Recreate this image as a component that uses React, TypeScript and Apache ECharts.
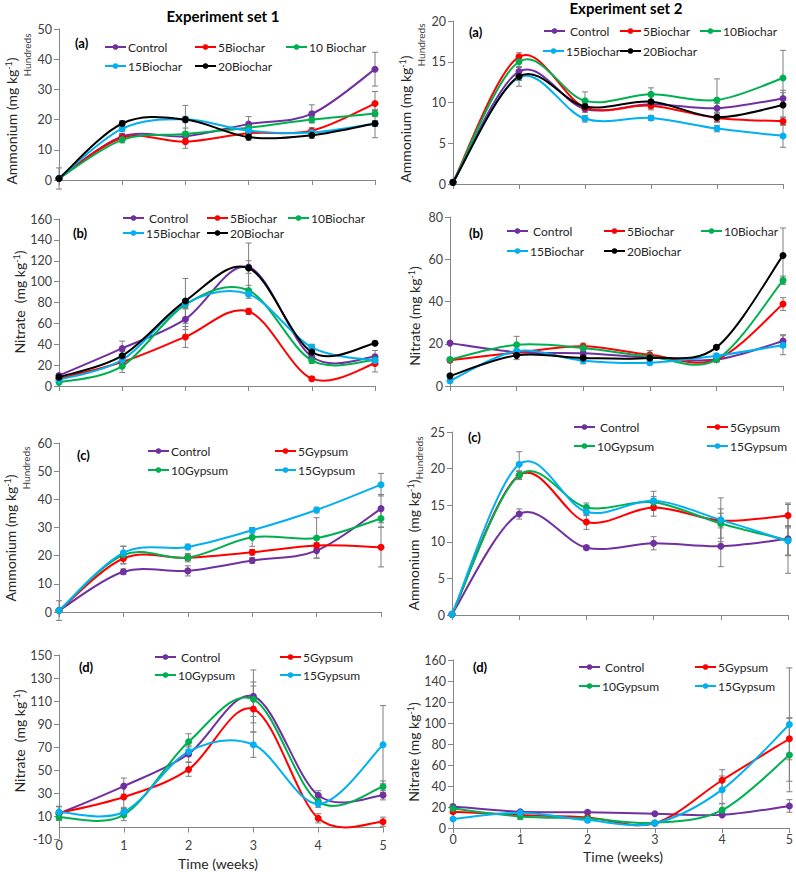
import React, { useEffect, useRef } from 'react';
import * as echarts from 'echarts';

const weeks = [0, 1, 2, 3, 4, 5];

const biocharNamesA = ['Control', '5Biochar', '10 Biochar', '15Biochar', '20Biochar'];
const biocharNames = ['Control', '5Biochar', '10Biochar', '15Biochar', '20Biochar'];
const gypsumNames = ['Control', '5Gypsum', '10Gypsum', '15Gypsum'];

// Experiment set 1 — (a) Ammonium (hundreds), biochar
const set1AmmoniumBiochar = [
  [0.5, 14.4, 14.5, 18.5, 21.9, 36.7],
  [0.5, 14.0, 12.7, 15.5, 16.3, 25.3],
  [0.5, 13.3, 15.2, 17.3, 20.0, 22.0],
  [0.5, 17.0, 20.1, 16.3, 15.7, 18.7],
  [0.5, 18.7, 20.0, 14.2, 14.8, 18.7],
];
const set1AmmoniumBiocharErr = [
  [0, 1, 1.5, 2.5, 3, 5.6],
  [3.5, 1, 2.2, 1, 1, 4],
  [0, 1, 2, 1, 1, 1],
  [0, 1, 1, 1, 1, 1],
  [0, 1, 4.7, 1, 1, 4.7],
];
// Experiment set 1 — (b) Nitrate, biochar
const set1NitrateBiochar = [
  [10, 36, 64, 114, 28, 28],
  [7, 23, 47, 71.5, 7, 21.5],
  [3.5, 19, 78, 91.5, 24.5, 25],
  [6, 25, 79, 88, 37, 24.5],
  [8.5, 29, 81.5, 113, 32.5, 41],
];
const set1NitrateBiocharErr = [
  [2, 7, 10, 6, 4, 6],
  [1, 3, 10, 3, 2, 8],
  [1, 6, 4, 5, 3, 2],
  [1, 3, 4, 4, 3, 2],
  [1, 4, 21.5, 24, 7, 2],
];
// Experiment set 1 — (c) Ammonium (hundreds), gypsum
const set1AmmoniumGypsum = [
  [0.5, 14.3, 14.6, 18.3, 21.8, 36.7],
  [0.5, 19.0, 19.3, 21.2, 23.6, 23.0],
  [0.5, 20.3, 19.3, 26.5, 26.3, 33.2],
  [0.5, 21.0, 23.1, 29.0, 36.2, 45.2],
];
const set1AmmoniumGypsumErr = [
  [3.5, 1, 1.8, 1, 2.6, 5],
  [0, 2, 1, 1, 1, 7],
  [0, 3, 1.5, 3.2, 7.2, 3],
  [0, 2.4, 1, 1, 1, 4],
];
// Experiment set 1 — (d) Nitrate, gypsum
const set1NitrateGypsum = [
  [12, 36, 64, 114, 28, 28],
  [12.5, 26.5, 50.5, 103, 8, 5],
  [9, 11, 74.5, 111.5, 22.5, 35.5],
  [13.5, 13.5, 66, 72, 20.5, 72],
];
const set1NitrateGypsumErr = [
  [6, 7, 7, 23, 4, 4],
  [2, 10, 6, 20, 4, 4],
  [2, 5, 7, 15, 3, 5],
  [5, 4, 4, 11, 3, 34],
];
// Experiment set 2 — (a) Ammonium (hundreds), biochar
const set2AmmoniumBiochar = [
  [0.2, 13.8, 9.2, 9.8, 9.3, 10.5],
  [0.2, 15.6, 9.4, 9.6, 8.1, 7.7],
  [0.2, 15.0, 10.2, 11.0, 10.3, 13.0],
  [0.2, 13.1, 8.0, 8.1, 6.8, 5.9],
  [0.2, 13.2, 9.5, 10.1, 8.2, 9.7],
];
const set2AmmoniumBiocharErr = [
  [0, 0.5, 0.4, 0.5, 0.6, 1],
  [0, 0.5, 0.4, 0.5, 0.5, 0.5],
  [0.3, 0.6, 1.1, 0.8, 2.6, 3.4],
  [0, 0.4, 0.4, 0.3, 0.4, 1.4],
  [0, 1.2, 0.4, 0.7, 0.6, 1.5],
];
// Experiment set 2 — (b) Nitrate, biochar
const set2NitrateBiochar = [
  [20.3, 16, 15.5, 13.5, 12.5, 21.3],
  [12.2, 15.8, 18.8, 14.8, 12.5, 38.8],
  [12.5, 19.5, 18, 14, 12.5, 50],
  [2.5, 16.5, 12, 11, 14.3, 19.3],
  [4.8, 14.5, 13.3, 13.3, 18.3, 61.8],
];
const set2NitrateBiocharErr = [
  [0.5, 1, 1, 1, 1, 3],
  [1, 1, 1.5, 2, 1, 3],
  [1, 4, 1, 1, 1, 2],
  [1, 1, 1.5, 1, 1, 4.5],
  [0.5, 2, 1, 1, 1, 13],
];
// Experiment set 2 — (c) Ammonium (hundreds), gypsum
const set2AmmoniumGypsum = [
  [0.1, 13.8, 9.2, 9.8, 9.4, 10.4],
  [0.1, 19.1, 12.7, 14.7, 12.9, 13.6],
  [0.1, 19.1, 14.7, 15.4, 12.5, 10.2],
  [0.1, 20.6, 14.1, 15.6, 13.0, 10.1],
];
const set2AmmoniumGypsumErr = [
  [0, 0.7, 0.3, 0.9, 2.8, 4.7],
  [0, 0.5, 1, 1.2, 1, 1.7],
  [0, 0.6, 0.6, 0.8, 2, 2],
  [0, 1.7, 0.5, 1.3, 3, 2],
];
// Experiment set 2 — (d) Nitrate, gypsum
const set2NitrateGypsum = [
  [20.5, 15.5, 15, 13.5, 12.5, 21],
  [15.5, 12.5, 10, 4.5, 45.5, 85],
  [18.5, 11, 9, 5, 17, 69.5],
  [8.5, 14.5, 7.5, 4.5, 36.5, 98.5],
];
const set2NitrateGypsumErr = [
  [1, 1, 1, 1, 1, 6],
  [1, 3, 2, 1, 10, 20],
  [1, 3, 2, 1, 6, 35],
  [1, 2, 2, 1, 13, 54],
];

const FONT = 'Lato, "Liberation Sans", sans-serif';
const AXIS_COLOR = '#868686';
const TEXT_COLOR = '#404040';

function colorOf(name: string): string {
  if (name === 'Control') return '#7030A0';
  const n = parseInt(name, 10);
  if (n === 5) return '#FF0000';
  if (n === 10) return '#00B050';
  if (n === 15) return '#00B0F0';
  return '#000000';
}

type Panel = {
  names: string[];
  values: number[][];
  errors: number[][];
  grid: [number, number, number, number];
  y: [number, number, number];
  showX: boolean;
  xMargin?: number;
  zeroLine?: boolean;
  legendPos: [number, number][];
  spaced?: boolean;
  tag: string;
  tagPos: [number, number];
  yTitle: string;
  yTitlePos: [number, number];
  hundreds?: [number, number];
};

const panels: Panel[] = [
  {
    names: biocharNamesA, values: set1AmmoniumBiochar, errors: set1AmmoniumBiocharErr,
    grid: [59, 29, 316, 151], y: [0, 50, 10], showX: false,
    legendPos: [[104, 48], [194, 48], [285, 48], [104, 67], [194, 67]],
    tag: '(a)', tagPos: [75, 43], yTitle: 'Ammonium (mg kg{sup|-1})', yTitlePos: [11, 121], hundreds: [27, 55],
  },
  {
    names: biocharNames, values: set1NitrateBiochar, errors: set1NitrateBiocharErr,
    grid: [59, 219, 316, 167], y: [0, 160, 20], showX: false,
    legendPos: [[122, 219], [206, 219], [287, 219], [122, 234], [206, 234]], spaced: true,
    tag: '(b)', tagPos: [73, 233], yTitle: 'Nitrate  (mg kg{sup|-1})', yTitlePos: [19, 302],
  },
  {
    names: gypsumNames, values: set1AmmoniumGypsum, errors: set1AmmoniumGypsumErr,
    grid: [59, 443, 322, 169], y: [0, 60, 10], showX: false,
    legendPos: [[147, 452], [274, 452], [147, 471], [274, 471]],
    tag: '(c)', tagPos: [77, 455], yTitle: 'Ammonium (mg kg{sup|-1})', yTitlePos: [10, 538], hundreds: [26, 468],
  },
  {
    names: gypsumNames, values: set1NitrateGypsum, errors: set1NitrateGypsumErr,
    grid: [59, 655, 324, 184], y: [-10, 150, 20], showX: true, xMargin: 0, zeroLine: true,
    legendPos: [[154, 658], [279, 658], [154, 676], [279, 676]], spaced: true,
    tag: '(d)', tagPos: [79, 667], yTitle: 'Nitrate  (mg kg{sup|-1})', yTitlePos: [19, 741],
  },
  {
    names: biocharNames, values: set2AmmoniumBiochar, errors: set2AmmoniumBiocharErr,
    grid: [453, 21, 330, 163], y: [0, 20, 5], showX: false,
    legendPos: [[543, 32], [619, 32], [699, 32], [542, 52], [619, 52]], spaced: true,
    tag: '(a)', tagPos: [469, 32], yTitle: 'Ammonium (mg kg{sup|-1})', yTitlePos: [405, 119], hundreds: [421, 45],
  },
  {
    names: biocharNames, values: set2NitrateBiochar, errors: set2NitrateBiocharErr,
    grid: [450, 217, 333, 169], y: [0, 80, 20], showX: false,
    legendPos: [[506, 232], [603, 232], [700, 232], [506, 252], [603, 252]], spaced: true,
    tag: '(b)', tagPos: [469, 233], yTitle: 'Nitrate (mg kg{sup|-1})', yTitlePos: [414, 316],
  },
  {
    names: gypsumNames, values: set2AmmoniumGypsum, errors: set2AmmoniumGypsumErr,
    grid: [452, 432, 336, 183], y: [0, 25, 5], showX: false,
    legendPos: [[573, 428], [706, 428], [573, 447], [706, 447]], spaced: true,
    tag: '(c)', tagPos: [468, 437], yTitle: 'Ammonium  (mg kg{sup|-1})', yTitlePos: [413, 545], hundreds: [419, 458],
  },
  {
    names: gypsumNames, values: set2NitrateGypsum, errors: set2NitrateGypsumErr,
    grid: [453, 660, 337, 168], y: [0, 160, 20], showX: true, xMargin: 5,
    legendPos: [[578, 668], [694, 668], [578, 687], [694, 687]], spaced: true,
    tag: '(d)', tagPos: [473, 667], yTitle: 'Nitrate (mg kg{sup|-1})', yTitlePos: [413, 752],
  },
];

const errRender = (params: any, api: any) => {
  const x = api.value(0);
  const y = api.value(1);
  const e = api.value(2);
  if (!e) return { type: 'group', children: [] };
  const top = api.coord([x, y + e]);
  const bot = api.coord([x, y - e]);
  const st = { stroke: '#7F7F7F', lineWidth: 1 };
  return {
    type: 'group',
    children: [
      { type: 'line', shape: { x1: top[0], y1: top[1], x2: bot[0], y2: bot[1] }, style: st },
      { type: 'line', shape: { x1: top[0] - 3, y1: top[1], x2: top[0] + 3, y2: top[1] }, style: st },
      { type: 'line', shape: { x1: bot[0] - 3, y1: bot[1], x2: bot[0] + 3, y2: bot[1] }, style: st },
    ],
  };
};

// Excel-style smoothed line: Catmull-Rom style Bezier segments through the data points
const makeCurve = (vals: number[], color: string) => (params: any, api: any) => {
  const i = params.dataIndex;
  const n = vals.length;
  if (i >= n - 1) return { type: 'group', children: [] };
  const P = (k: number) => {
    const kk = Math.max(0, Math.min(n - 1, k));
    return api.coord([weeks[kk], vals[kk]]);
  };
  const p0 = P(i - 1);
  const p1 = P(i);
  const p2 = P(i + 1);
  const p3 = P(i + 2);
  return {
    type: 'bezierCurve',
    shape: {
      x1: p1[0], y1: p1[1], x2: p2[0], y2: p2[1],
      cpx1: p1[0] + (p2[0] - p0[0]) / 6, cpy1: p1[1] + (p2[1] - p0[1]) / 6,
      cpx2: p2[0] - (p3[0] - p1[0]) / 6, cpy2: p2[1] - (p3[1] - p1[1]) / 6,
    },
    style: { stroke: color, lineWidth: 2, fill: 'none' },
  };
};

function buildOption() {
  const grid: any[] = [];
  const xAxis: any[] = [];
  const yAxis: any[] = [];
  const series: any[] = [];
  const legend: any[] = [];
  const graphic: any[] = [];

  panels.forEach((p, pi) => {
    grid.push({ left: p.grid[0], top: p.grid[1], width: p.grid[2], height: p.grid[3] });
    const xi = xAxis.length;
    xAxis.push({
      type: 'value', gridIndex: pi, min: 0, max: 5, interval: 1, position: 'bottom',
      axisLine: { show: !p.zeroLine, onZero: false, lineStyle: { color: AXIS_COLOR, width: 1 } },
      axisTick: { show: !p.zeroLine, length: 5, lineStyle: { color: AXIS_COLOR } },
      axisLabel: { show: p.showX, fontFamily: FONT, fontSize: 12.5, color: TEXT_COLOR, margin: p.xMargin ?? 8 },
      splitLine: { show: false },
    });
    if (p.zeroLine) {
      xAxis.push({
        type: 'value', gridIndex: pi, min: 0, max: 5, interval: 1, position: 'bottom',
        axisLine: { show: true, onZero: true, lineStyle: { color: AXIS_COLOR, width: 1 } },
        axisTick: { show: true, length: 5, lineStyle: { color: AXIS_COLOR } },
        axisLabel: { show: false },
        splitLine: { show: false },
      });
    }
    yAxis.push({
      type: 'value', gridIndex: pi, min: p.y[0], max: p.y[1], interval: p.y[2],
      axisLine: { show: true, onZero: false, lineStyle: { color: AXIS_COLOR, width: 1 } },
      axisTick: { show: true, length: 5, lineStyle: { color: AXIS_COLOR } },
      axisLabel: { fontFamily: FONT, fontSize: 12.5, color: TEXT_COLOR, margin: 7 },
      splitLine: { show: false },
    });

    p.names.forEach((name, si) => {
      const vals = p.values[si];
      const errs = p.errors[si];
      series.push({
        type: 'custom', xAxisIndex: xi, yAxisIndex: pi, silent: true, z: 1,
        renderItem: errRender, encode: { x: 0, y: 1 },
        data: weeks.map((w, i) => [w, vals[i], errs[i]]),
      });
    });
    p.names.forEach((name, si) => {
      const vals = p.values[si];
      const c = colorOf(name);
      series.push({
        type: 'custom', xAxisIndex: xi, yAxisIndex: pi, silent: true, z: 2,
        renderItem: makeCurve(vals, c), encode: { x: 0, y: 1 },
        data: weeks.map((w, i) => [w, vals[i]]),
      });
    });
    p.names.forEach((name, si) => {
      const vals = p.values[si];
      const c = colorOf(name);
      series.push({
        type: 'line', name, xAxisIndex: xi, yAxisIndex: pi, z: 3,
        symbol: 'circle', symbolSize: 7,
        itemStyle: { color: c }, lineStyle: { color: c, width: 2, opacity: 0 },
        data: weeks.map((w, i) => [w, vals[i]]),
      });
    });

    p.names.forEach((name, si) => {
      const pos = p.legendPos[si];
      const c = colorOf(name);
      legend.push({
        data: [name], left: pos[0], top: pos[1] - 7, padding: 0, itemGap: 0,
        itemWidth: 21, itemHeight: 7, selectedMode: false,
        lineStyle: { color: c, width: 2, opacity: 1 },
        itemStyle: { color: c },
        formatter: (n: string) => (p.spaced && n === 'Control' ? ' ' + n : n),
        textStyle: { fontFamily: FONT, fontSize: 12, color: '#262626', padding: [0, 0, 0, -3] },
      });
    });

    graphic.push({
      type: 'text', x: p.tagPos[0], y: p.tagPos[1],
      style: { text: p.tag, font: `bold 13px ${FONT}`, fill: '#000', align: 'left', verticalAlign: 'middle' },
    });
    graphic.push({
      type: 'text', x: p.yTitlePos[0], y: p.yTitlePos[1], rotation: Math.PI / 2,
      style: {
        text: p.yTitle, fontFamily: FONT, fontSize: 14, fill: '#262626', align: 'center', verticalAlign: 'middle',
        rich: { sup: { fontFamily: FONT, fontSize: 9, verticalAlign: 'top', fill: '#262626' } },
      },
    });
    if (p.hundreds) {
      graphic.push({
        type: 'text', x: p.hundreds[0], y: p.hundreds[1], rotation: Math.PI / 2,
        style: { text: 'Hundreds', fontFamily: FONT, fontSize: 10, fill: '#404040', align: 'center', verticalAlign: 'middle' },
      });
    }
  });

  graphic.push({
    type: 'text', x: 223, y: 16,
    style: { text: 'Experiment set 1', font: `bold 15px ${FONT}`, fill: '#000', align: 'center', verticalAlign: 'middle' },
  });
  graphic.push({
    type: 'text', x: 626, y: 8,
    style: { text: 'Experiment set 2', font: `bold 15px ${FONT}`, fill: '#000', align: 'center', verticalAlign: 'middle' },
  });
  graphic.push({
    type: 'text', x: 218, y: 863,
    style: { text: 'Time (weeks)', fontFamily: FONT, fontSize: 14, fill: '#262626', align: 'center', verticalAlign: 'middle' },
  });
  graphic.push({
    type: 'text', x: 623, y: 856,
    style: { text: 'Time (weeks)', fontFamily: FONT, fontSize: 14, fill: '#262626', align: 'center', verticalAlign: 'middle' },
  });

  return {
    animation: false,
    backgroundColor: '#ffffff',
    grid, xAxis, yAxis, series, legend, graphic,
  };
}

export default function App() {
  const ref = useRef<HTMLDivElement>(null);
  useEffect(() => {
    if (!ref.current) return;
    const chart = echarts.init(ref.current, null, { renderer: 'svg' });
    chart.setOption(buildOption() as any);
    return () => chart.dispose();
  }, []);
  return (
    <div
      ref={ref}
      style={{ position: 'fixed', left: 0, top: 0, width: 796, height: 872, background: '#fff' }}
    />
  );
}
